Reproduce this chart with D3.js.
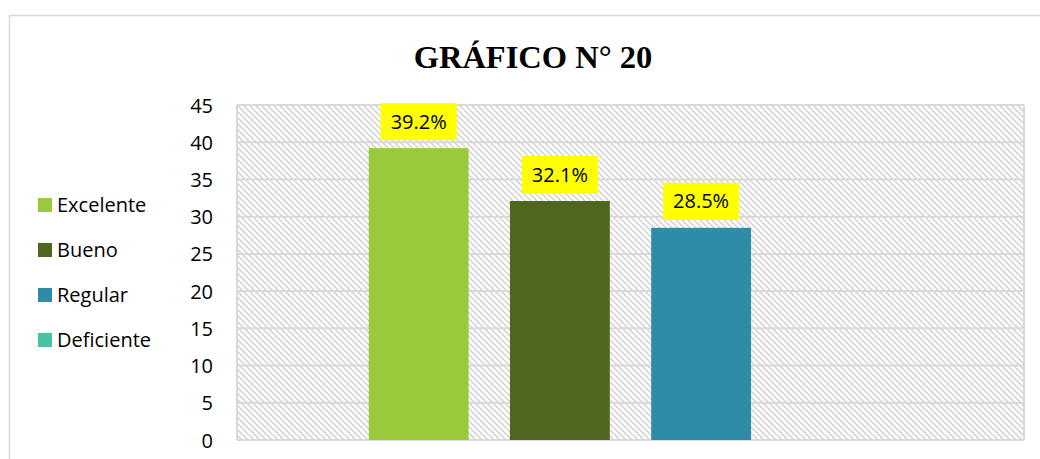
<!DOCTYPE html>
<html lang="es">
<head>
    <meta charset="UTF-8">
    <title>Gráfico N° 20</title>
    <script src="https://d3js.org/d3.v7.min.js"></script>
    <style>
        body { margin: 0; background: #fff; }
        svg { display: block; }
    </style>
</head>
<body>
    <div id="chart"></div>
    <script>
        // Data
        const categories = ["Excelente", "Bueno", "Regular", "Deficiente"];
        const values = [39.2, 32.1, 28.5, 0];
        const labels = ["39.2%", "32.1%", "28.5%", null];
        const colors = ["#9aca3c", "#4e661d", "#2e8ca8", "#45c1a4"];
        const yTicks = [0, 5, 10, 15, 20, 25, 30, 35, 40, 45];

        const width = 1040, height = 459;
        const plot = { left: 237, right: 1024, top: 105, bottom: 440 };
        const font = "'Open Sans', 'Noto Sans', sans-serif";

        const svg = d3.select("#chart").append("svg")
            .attr("width", width)
            .attr("height", height);

        // Hatch pattern for plot background
        const defs = svg.append("defs");
        defs.append("pattern")
            .attr("id", "hatch")
            .attr("patternUnits", "userSpaceOnUse")
            .attr("width", 6)
            .attr("height", 6)
            .call(p => {
                p.append("path")
                    .attr("d", "M-1,-1 L7,7 M-4,2 L1,7 M2,-4 L7,1")
                    .attr("stroke", "#d6d6d6")
                    .attr("stroke-width", 1.6);
            });

        // Outer chart border
        svg.append("rect")
            .attr("x", 9.5).attr("y", 15.5)
            .attr("width", width).attr("height", height)
            .attr("fill", "none")
            .attr("stroke", "#d9d9d9")
            .attr("stroke-width", 1.5);

        // Title
        svg.append("text")
            .attr("x", 533)
            .attr("y", 68)
            .attr("text-anchor", "middle")
            .style("font-family", "'Liberation Serif', 'Times New Roman', serif")
            .style("font-weight", "bold")
            .style("font-size", "32.5px")
            .text("GRÁFICO N° 20");

        const y = d3.scaleLinear()
            .domain([0, 45])
            .range([plot.bottom, plot.top]);

        const x = d3.scaleBand()
            .domain(categories)
            .range([plot.left, plot.right])
            .paddingInner(0.293)
            .paddingOuter(0.933);

        // Plot background
        svg.append("rect")
            .attr("x", plot.left).attr("y", plot.top)
            .attr("width", plot.right - plot.left)
            .attr("height", plot.bottom - plot.top)
            .attr("fill", "url(#hatch)");

        // Gridlines
        svg.append("g")
            .selectAll("line")
            .data(yTicks)
            .join("line")
            .attr("x1", plot.left).attr("x2", plot.right)
            .attr("y1", d => y(d)).attr("y2", d => y(d))
            .attr("stroke", "#d9d9d9")
            .attr("stroke-width", 2);

        // Plot border sides
        svg.append("g")
            .selectAll("line")
            .data([plot.left, plot.right])
            .join("line")
            .attr("x1", d => d).attr("x2", d => d)
            .attr("y1", plot.top).attr("y2", plot.bottom)
            .attr("stroke", "#d9d9d9")
            .attr("stroke-width", 2);

        // Y axis
        const yAxis = svg.append("g")
            .attr("transform", `translate(${plot.left - 24},0)`)
            .call(d3.axisLeft(y).tickValues(yTicks).tickSize(0).tickPadding(0));
        yAxis.select(".domain").remove();
        yAxis.selectAll("text")
            .style("font-family", font)
            .style("font-size", "20px")
            .attr("fill", "#000")
            .attr("dy", "0.35em");

        // Bars
        svg.append("g")
            .selectAll("rect")
            .data(categories)
            .join("rect")
            .attr("x", d => x(d))
            .attr("width", x.bandwidth())
            .attr("y", (d, i) => y(values[i]))
            .attr("height", (d, i) => y(0) - y(values[i]))
            .attr("fill", (d, i) => colors[i]);

        // Data labels
        const lab = svg.append("g")
            .selectAll("g")
            .data(categories.filter((d, i) => labels[i]))
            .join("g")
            .attr("transform", d => {
                const i = categories.indexOf(d);
                return `translate(${x(d) + x.bandwidth() / 2},${y(values[i]) - 8})`;
            });
        lab.append("rect")
            .attr("x", -38).attr("y", -37)
            .attr("width", 76).attr("height", 37)
            .attr("fill", "#ffff00");
        lab.append("text")
            .attr("y", -11.5)
            .attr("text-anchor", "middle")
            .style("font-family", font)
            .style("font-size", "20px")
            .text(d => labels[categories.indexOf(d)]);

        // Legend
        const leg = svg.append("g")
            .selectAll("g")
            .data(categories)
            .join("g")
            .attr("transform", (d, i) => `translate(38,${205 + i * 45})`);
        leg.append("rect")
            .attr("x", 0).attr("y", -7)
            .attr("width", 14).attr("height", 14)
            .attr("fill", (d, i) => colors[i]);
        leg.append("text")
            .attr("x", 19)
            .attr("dy", "0.35em")
            .style("font-family", font)
            .style("font-size", "20px")
            .text(d => d);
    </script>
</body>
</html>
